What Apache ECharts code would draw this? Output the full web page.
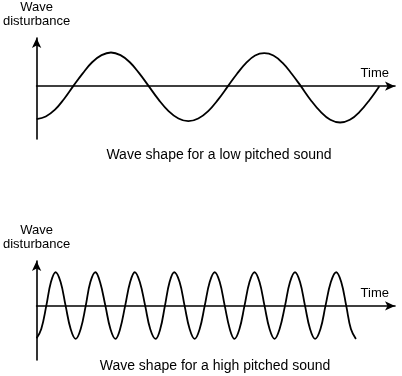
<!DOCTYPE html>
<html>
<head>
<meta charset="utf-8">
<script src="https://cdn.jsdelivr.net/npm/echarts@6/dist/echarts.min.js"></script>
<style>html,body{margin:0;padding:0;background:#fff}#c{width:402px;height:376px}</style>
</head>
<body>
<div id="c"></div>
<script>
// Low pitched wave: time (arbitrary units) and disturbance
var lowTime = [0, 2.56, 5.13, 7.66, 10.22, 12.87, 15.49, 18.13, 20.75, 23.40, 26.01, 28.66, 31.28, 34.04, 36.82, 39.58, 42.34, 45.10, 47.88, 50.64, 53.40, 55.93, 58.47, 60.97, 63.51, 66.07, 68.64, 71.17, 73.73, 76.46, 79.22, 81.95, 84.68, 87.41, 90.17, 92.90, 95.63];
var lowValue = [-0.98, -0.90, -0.70, -0.38, 0, 0.38, 0.71, 0.92, 1.00, 0.92, 0.71, 0.38, 0, -0.40, -0.74, -0.96, -1.04, -0.96, -0.74, -0.40, 0, 0.37, 0.69, 0.91, 0.98, 0.91, 0.69, 0.37, 0, -0.41, -0.76, -1.00, -1.08, -1.00, -0.76, -0.41, 0];

// High pitched wave
var highTime = [0, 1.3, 2.7, 4.0, 5.3, 6.7, 8.1, 9.5, 10.9, 12.3, 13.7, 15.0, 16.4, 17.7, 19.2, 20.6, 22.0, 23.3, 24.7, 26.1, 27.4, 28.8, 30.3, 31.7, 33.2, 34.5, 35.8, 37.1, 38.4, 39.9, 41.3, 42.7, 44.1, 45.5, 46.9, 48.3, 49.7, 51.1, 52.5, 53.9, 55.2, 56.6, 58.0, 59.4, 60.8, 62.2, 63.6, 65.0, 66.4, 67.8, 69.3, 70.7, 72.1, 73.5, 74.9, 76.3, 77.7, 79.2, 80.6, 82.1, 83.6, 85.0, 86.4, 87.7, 89.1];
var highValue = [-0.95, -0.68, 0, 0.70, 0.99, 0.70, 0, -0.68, -0.97, -0.68, 0, 0.70, 0.99, 0.70, 0, -0.68, -0.97, -0.68, 0, 0.70, 0.99, 0.70, 0, -0.68, -0.97, -0.68, 0, 0.70, 0.99, 0.70, 0, -0.68, -0.97, -0.68, 0, 0.70, 0.99, 0.70, 0, -0.68, -0.97, -0.68, 0, 0.70, 0.99, 0.70, 0, -0.68, -0.97, -0.68, 0, 0.70, 0.99, 0.70, 0, -0.68, -0.97, -0.68, 0, 0.70, 0.99, 0.70, 0, -0.68, -0.97];

var yName = 'Wave\ndisturbance';
var xName = 'Time';
var captions = ['Wave shape for a low pitched sound', 'Wave shape for a high pitched sound'];

function pairs(t, v) { return t.map(function (x, i) { return [x, v[i]]; }); }

var FONT = '"Liberation Sans", Arial, Helvetica, sans-serif';
var INK = '#000';

function xAxisCfg(idx) {
  return {
    type: 'value', gridIndex: idx, min: 0, max: 100,
    axisLine: { show: true, onZero: true, symbol: ['none', 'arrow'], symbolSize: [7, 10], lineStyle: { color: INK, width: 1.6 } },
    axisTick: { show: false }, axisLabel: { show: false }, splitLine: { show: false },
    name: xName, nameLocation: 'end', nameGap: -6,
    nameTextStyle: { fontFamily: FONT, fontSize: 13, color: INK, align: 'right', verticalAlign: 'bottom', padding: [0, 0, 6, 0] }
  };
}
function yAxisCfg(idx, mn, mx) {
  return {
    type: 'value', gridIndex: idx, min: mn, max: mx,
    axisLine: { show: true, onZero: true, symbol: ['none', 'arrow'], symbolSize: [7, 10], lineStyle: { color: INK, width: 1.6 } },
    axisTick: { show: false }, axisLabel: { show: false }, splitLine: { show: false },
    name: yName, nameLocation: 'end', nameGap: 10,
    nameTextStyle: { fontFamily: FONT, fontSize: 13, color: INK, align: 'center', verticalAlign: 'bottom', lineHeight: 14 }
  };
}

var chart = echarts.init(document.getElementById('c'), null, { renderer: 'canvas' });
chart.setOption({
  backgroundColor: '#fff',
  animation: false,
  grid: [
    { left: 36, right: 7, top: 37, height: 102 },
    { left: 36, right: 7, top: 261, height: 99 }
  ],
  xAxis: [xAxisCfg(0), xAxisCfg(1)],
  yAxis: [yAxisCfg(0, -1.57, 1.43), yAxisCfg(1, -1.59, 1.32)],
  series: [
    { type: 'line', xAxisIndex: 0, yAxisIndex: 0, data: pairs(lowTime, lowValue), smooth: 0.4, showSymbol: false, lineStyle: { color: INK, width: 1.8 } },
    { type: 'line', xAxisIndex: 1, yAxisIndex: 1, data: pairs(highTime, highValue), smooth: 0.4, showSymbol: false, lineStyle: { color: INK, width: 1.8 } }
  ],
  graphic: [
    { type: 'text', x: 219, y: 155, style: { text: captions[0], font: '14px ' + FONT, fill: INK, textAlign: 'center', textVerticalAlign: 'middle' } },
    { type: 'text', x: 215, y: 366, style: { text: captions[1], font: '14px ' + FONT, fill: INK, textAlign: 'center', textVerticalAlign: 'middle' } }
  ]
});
</script>
</body>
</html>
